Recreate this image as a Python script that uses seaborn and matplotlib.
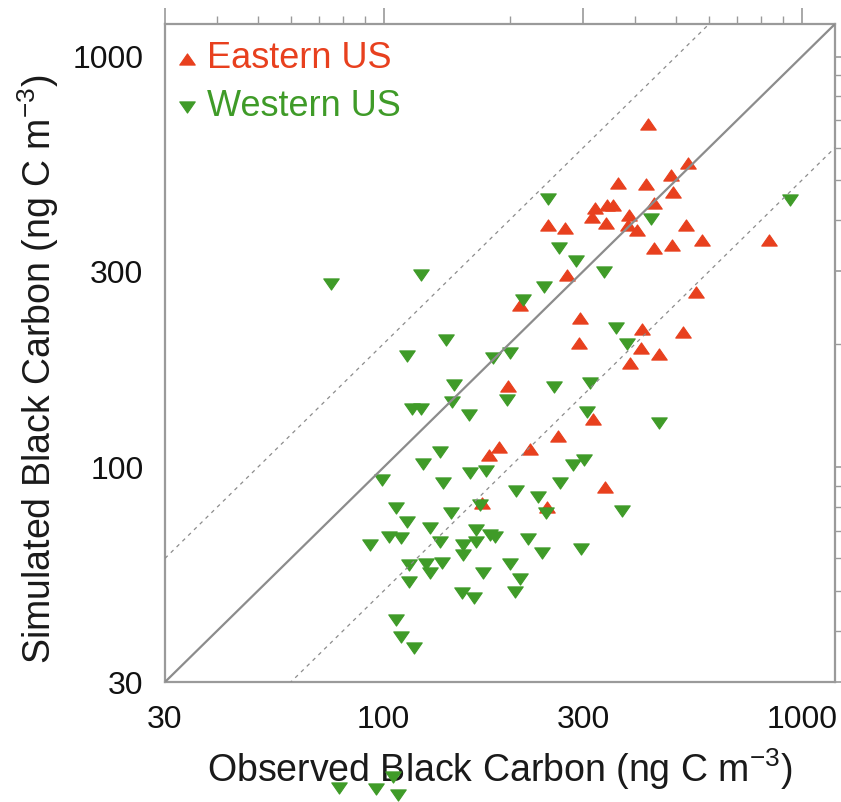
import matplotlib
matplotlib.use("Agg")
import numpy as np
import pandas as pd
import seaborn as sns
import matplotlib.pyplot as plt
from matplotlib.path import Path
from matplotlib.ticker import FixedLocator, FixedFormatter, LogLocator, NullFormatter

# ---------------- data ----------------
regions = ["Eastern US", "Western US"]

east_obs = [428, 534, 486, 363, 424, 491, 443, 320, 342, 353,
            315, 386, 340, 384, 403, 247, 271, 528, 577, 834,
            443, 489, 274, 212, 558, 295, 414, 519, 293, 412,
            455, 388, 198, 316, 261, 189, 179, 224, 338, 172, 246]
east_sim = [685, 551, 515, 492, 489, 468, 440, 428, 435, 435,
            407, 411, 393, 389, 378, 389, 382, 389, 358, 358,
            342, 348, 294, 248, 267, 231, 217, 213, 201, 195,
            189, 179, 158, 131, 119, 112, 107, 111, 89.5, 82, 80]

west_obs = [247, 436, 936, 262, 288, 336, 242, 215, 359, 382,
            183, 200, 123, 75, 141, 114, 147, 146, 117, 123,
            160, 197, 255, 311, 306, 455, 136, 124, 99, 161,
            176, 139, 284, 301, 264, 207, 234, 170, 244, 371,
            107, 114, 145, 129, 93, 103, 110, 136, 155, 166,
            166, 180, 185, 221, 239, 296, 115, 126, 129, 138,
            155, 173, 200, 212, 206, 115, 154, 164, 107, 110,
            118, 78, 96, 105, 108]
west_sim = [450, 402, 447, 342, 318, 299, 275, 255, 218, 199,
            185, 190, 294, 279, 204, 187, 159, 144, 139, 139,
            134, 146, 157, 160, 136, 128, 109, 102, 93, 97,
            98, 91.5, 101, 104, 91.5, 87.5, 84.6, 81, 77.4, 78.3,
            79.6, 73.6, 77.4, 71.1, 64.7, 67.7, 67.3, 65.8, 64.7, 70.3,
            65.8, 68.4, 67.7, 66.9, 61.8, 63.2, 57.8, 58.1, 55.3, 58.5,
            61.1, 55.3, 58.1, 53.5, 49.7, 52.6, 49.4, 48.0, 42.5, 38.6,
            36.3, 16.6, 16.5, 17.6, 15.9]

tick_values = [30, 100, 300, 1000]
tick_labels = ["30", "100", "300", "1000"]
axis_limits = [30, 1200]
ratio_lines = [1, 2, 0.5]

x_label = "Observed Black Carbon (ng C m$^{-3}$)"
y_label = "Simulated Black Carbon (ng C m$^{-3}$)"

# ---------------- style ----------------
sns.set_theme(style="white")
plt.rcParams['font.family'] = ['Liberation Sans', 'DejaVu Sans']
plt.rcParams['mathtext.default'] = 'regular'
plt.rcParams['axes.unicode_minus'] = False

RED = "#e8401e"
GREEN = "#3f9b28"
GRAY = "#9a9a9a"

tri_up = Path([(-1, -0.72), (1, -0.72), (0, 0.72), (-1, -0.72)],
              [Path.MOVETO, Path.LINETO, Path.LINETO, Path.CLOSEPOLY])
tri_down = Path([(-1, 0.72), (1, 0.72), (0, -0.72), (-1, 0.72)],
                [Path.MOVETO, Path.LINETO, Path.LINETO, Path.CLOSEPOLY])

df = pd.DataFrame({
    "obs": east_obs + west_obs,
    "sim": east_sim + west_sim,
    "region": [regions[0]] * len(east_obs) + [regions[1]] * len(west_obs),
})

fig = plt.figure(figsize=(8.41, 8.02), dpi=100)
ax = fig.add_axes([165 / 841, 1 - 682 / 802, 670 / 841, 658 / 802])

for reg, col, mk in zip(regions, [RED, GREEN], [tri_up, tri_down]):
    sub = df[df["region"] == reg]
    sns.scatterplot(data=sub, x="obs", y="sim", ax=ax, color=col, marker=mk,
                    s=125, edgecolor=col, linewidth=0.8, label=reg,
                    clip_on=False, zorder=2)

lims = np.array(axis_limits, dtype=float)
for r in ratio_lines:
    if r == 1:
        ax.plot(lims, lims * r, color="#8c8c8c", lw=1.6, zorder=3)
    else:
        ax.plot(lims, lims * r, color="#8c8c8c", lw=0.9, dashes=(3, 3.5), zorder=3)

ax.set_xscale("log")
ax.set_yscale("log")
ax.set_xlim(axis_limits)
ax.set_ylim(axis_limits)

for axis in (ax.xaxis, ax.yaxis):
    axis.set_major_locator(FixedLocator(tick_values))
    axis.set_major_formatter(FixedFormatter(tick_labels))
    axis.set_minor_locator(LogLocator(base=10, subs=np.arange(2, 10)))
    axis.set_minor_formatter(NullFormatter())

ax.tick_params(which="both", direction="out", top=True, right=True,
               colors=GRAY, labelcolor="#111111")
ax.tick_params(which="major", length=11.5, width=1.2, labelsize=23)
ax.tick_params(which="minor", length=5.8, width=1.0)
ax.tick_params(axis="x", which="major", pad=5)
ax.tick_params(axis="y", which="major", pad=4)

for sp in ax.spines.values():
    sp.set_color(GRAY)
    sp.set_linewidth(1.6)

ax.set_xlabel(x_label, fontsize=27, color="#1a1a1a", labelpad=8)
ax.set_ylabel(y_label, fontsize=27, color="#1a1a1a", labelpad=8)
ax.yaxis.set_label_coords(-0.155, 0.475)

leg = ax.legend(loc="upper left", bbox_to_anchor=(0.0, 0.99), frameon=False,
                fontsize=26, handlelength=0.6, handletextpad=0.25,
                borderaxespad=0.15, labelspacing=0.36, borderpad=0.15)
for txt, col in zip(leg.get_texts(), [RED, GREEN]):
    txt.set_color(col)

fig.savefig("out.png", dpi=100)
